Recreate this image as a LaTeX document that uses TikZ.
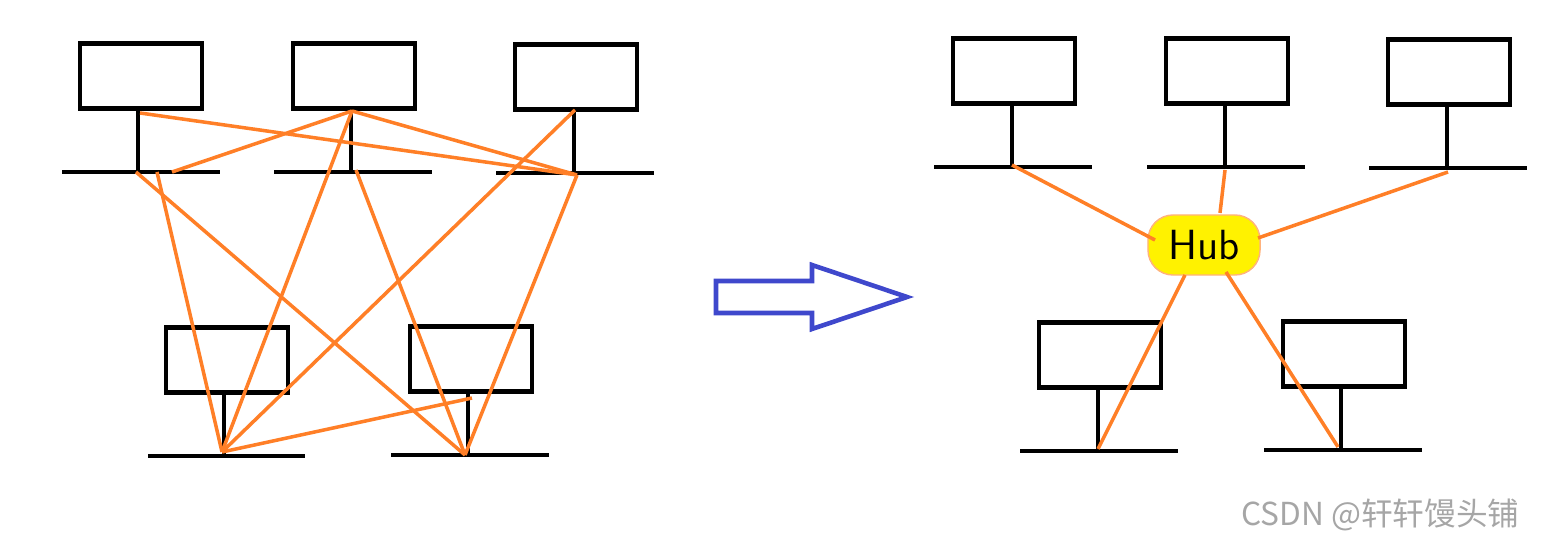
\documentclass[tikz,border=0pt]{standalone}
\usepackage{fontspec}
\newfontfamily\cjk{Noto Sans CJK SC}
\usetikzlibrary{positioning}
\definecolor{wire}{HTML}{FF7F27}
\definecolor{arrowblue}{HTML}{3F48CC}
\definecolor{hubyellow}{HTML}{FFF200}
\tikzset{
  pcbox/.style={draw, line width=1.2pt, minimum width=1.22cm, minimum height=0.65cm, inner sep=0pt},
  stem/.style={line width=1.1pt},
  link/.style={draw=wire, line width=1pt}
}
\begin{document}
\begin{tikzpicture}[x=0.01cm, y=-0.01cm]
  \useasboundingbox (0,0) rectangle (1546,534);

  % Left side: every station wired to the others
  \node[pcbox] (a) at (141,76) {};
  \node[pcbox] (b) at (354,76) {};
  \node[pcbox] (c) at (576,77) {};
  \node[pcbox] (d) at (227,360) {};
  \node[pcbox] (e) at (471,359) {};
  \draw[stem] (138,108) -- (138,172) (62,172) -- (220,172);
  \draw[stem] (351,108) -- (351,172) (274,172) -- (432,172);
  \draw[stem] (574,109) -- (574,173) (496,173) -- (654,173);
  \draw[stem] (224,392) -- (224,456) (148,456) -- (305,456);
  \draw[stem] (468,391) -- (468,455) (391,455) -- (549,455);

  \coordinate (aTop) at (140,113);
  \coordinate (aBusL) at (136,172);
  \coordinate (aBusM) at (157,172);
  \coordinate (aBusR) at (172,172);
  \coordinate (bTop) at (352,111);
  \coordinate (bBus) at (356,170);
  \coordinate (cTop) at (575,110);
  \coordinate (cBus) at (577,175);
  \coordinate (dBus) at (222,452);
  \coordinate (eBus) at (465,455);
  \coordinate (eMid) at (472,398);

  \draw[link] (aTop) -- (cBus);
  \draw[link] (aBusR) -- (bTop);
  \draw[link] (bTop) -- (cBus);
  \draw[link] (cTop) -- (dBus);
  \draw[link] (bTop) -- (dBus);
  \draw[link] (aBusL) -- (eBus);
  \draw[link] (aBusM) -- (dBus);
  \draw[link] (bBus) -- (eBus);
  \draw[link] (cBus) -- (eBus);
  \draw[link] (dBus) -- (eMid);

  % Arrow
  \draw[arrowblue, line width=1.3pt, line join=miter]
    (716,281) -- (812,281) -- (812,265) -- (907,297) -- (812,329) -- (812,313) -- (716,313) -- cycle;

  % Right side: stations on a hub
  \node[pcbox] (f) at (1014,71) {};
  \node[pcbox] (g) at (1227,71) {};
  \node[pcbox] (h) at (1449,72) {};
  \node[pcbox] (i) at (1100,355) {};
  \node[pcbox] (j) at (1344,354) {};
  \draw[stem] (1012,103) -- (1012,167) (934,167) -- (1092,167);
  \draw[stem] (1225,103) -- (1225,167) (1147,167) -- (1305,167);
  \draw[stem] (1447,104) -- (1447,168) (1369,168) -- (1527,168);
  \draw[stem] (1098,387) -- (1098,451) (1020,451) -- (1178,451);
  \draw[stem] (1341,386) -- (1341,450) (1264,450) -- (1422,450);

  \node[fill=hubyellow, draw=wire!60, line width=0.4pt, rounded corners=0.25cm,
        minimum width=1.12cm, minimum height=0.6cm, inner sep=0pt,
        font=\sffamily\large] (hub) at (1204,245) {Hub};

  \coordinate (fBus) at (1012,165);
  \coordinate (gBus) at (1225,170);
  \coordinate (hBus) at (1448,172);
  \coordinate (iBus) at (1098,449);
  \coordinate (jBus) at (1338,447);
  \draw[link] (fBus) -- (1155,240);
  \draw[link] (gBus) -- (1220,213);
  \draw[link] (hBus) -- (1258,238);
  \draw[link] (iBus) -- (1185,275);
  \draw[link] (jBus) -- (1226,272);

  \node[text=gray!70, font=\cjk\small, anchor=east] (mark) at (1532,515) {CSDN @轩轩馒头铺};
\end{tikzpicture}
\end{document}
